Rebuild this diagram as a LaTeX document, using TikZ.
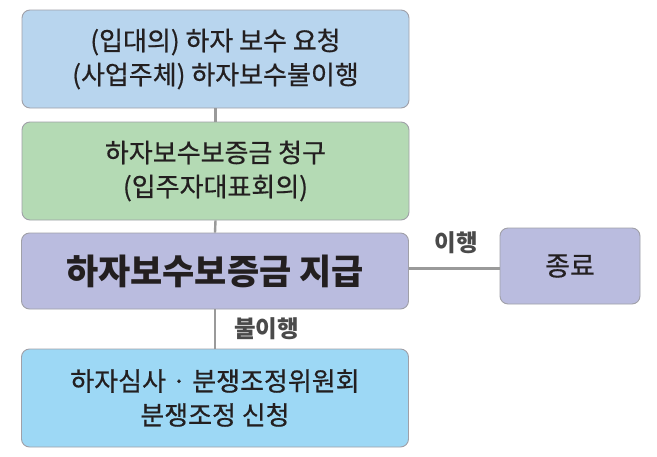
\documentclass[tikz,border=0pt]{standalone}
\usepackage{fontspec}
\setmainfont{Noto Sans CJK KR}
\newfontfamily\krthick[FakeBold=0.6]{Noto Sans CJK KR}
\definecolor{bxone}{HTML}{B8D5EE}
\definecolor{bxtwo}{HTML}{B4DAB4}
\definecolor{bxthree}{HTML}{BABCDF}
\definecolor{bxfour}{HTML}{9DD8F5}
\definecolor{bxedge}{HTML}{A0A0A8}
\definecolor{lnclr}{HTML}{9A9A9A}
\definecolor{txclr}{HTML}{231F20}
\definecolor{lblclr}{HTML}{4A4A4A}
\begin{document}
\begin{tikzpicture}[x=1pt,y=-1pt,
  flowbox/.style={draw=bxedge, line width=0.9pt, rounded corners=8pt, inner sep=0pt,
    minimum width=387pt, minimum height=98pt, align=center, text=txclr,
    font=\krthick\fontsize{26}{34}\selectfont},
  conn/.style={draw=lnclr, line width=2.4pt},
  lbl/.style={text=lblclr, font=\fontsize{23.5}{26}\selectfont\bfseries, inner sep=0pt}]
\useasboundingbox (0,0) rectangle (657,456);
\node[flowbox, fill=bxone] (b1) at (215.5,59) {(입대의) 하자 보수 요청\\(사업주체) 하자보수불이행};
\node[flowbox, fill=bxtwo] (b2) at (215.5,171) {하자보수보증금 청구\\(입주자대표회의)};
\node[flowbox, fill=bxthree, minimum height=76pt, font=\fontsize{35}{40}\selectfont\bfseries] (b3) at (215,271) {하자보수보증금 지급};
\node[flowbox, fill=bxfour] (b4) at (215,398) {하자심사 · 분쟁조정위원회\\분쟁조정 신청};
\node[flowbox, fill=bxthree, minimum width=140pt, minimum height=76pt, font=\krthick\fontsize{27}{30}\selectfont] (b5) at (570,266) {종료};
\draw[conn] (b1.south) -- (b2.north);
\draw[conn] (b2.south) -- (b3.north);
\draw[conn] (b3.south) -- (b4.north);
\draw[conn] (b3.east |- 0,268.5) -- (b5.west |- 0,268.5);
\node[lbl] (l1) at (456,243) {이행};
\node[lbl] (l2) at (266.5,329) {불이행};
\end{tikzpicture}
\end{document}
